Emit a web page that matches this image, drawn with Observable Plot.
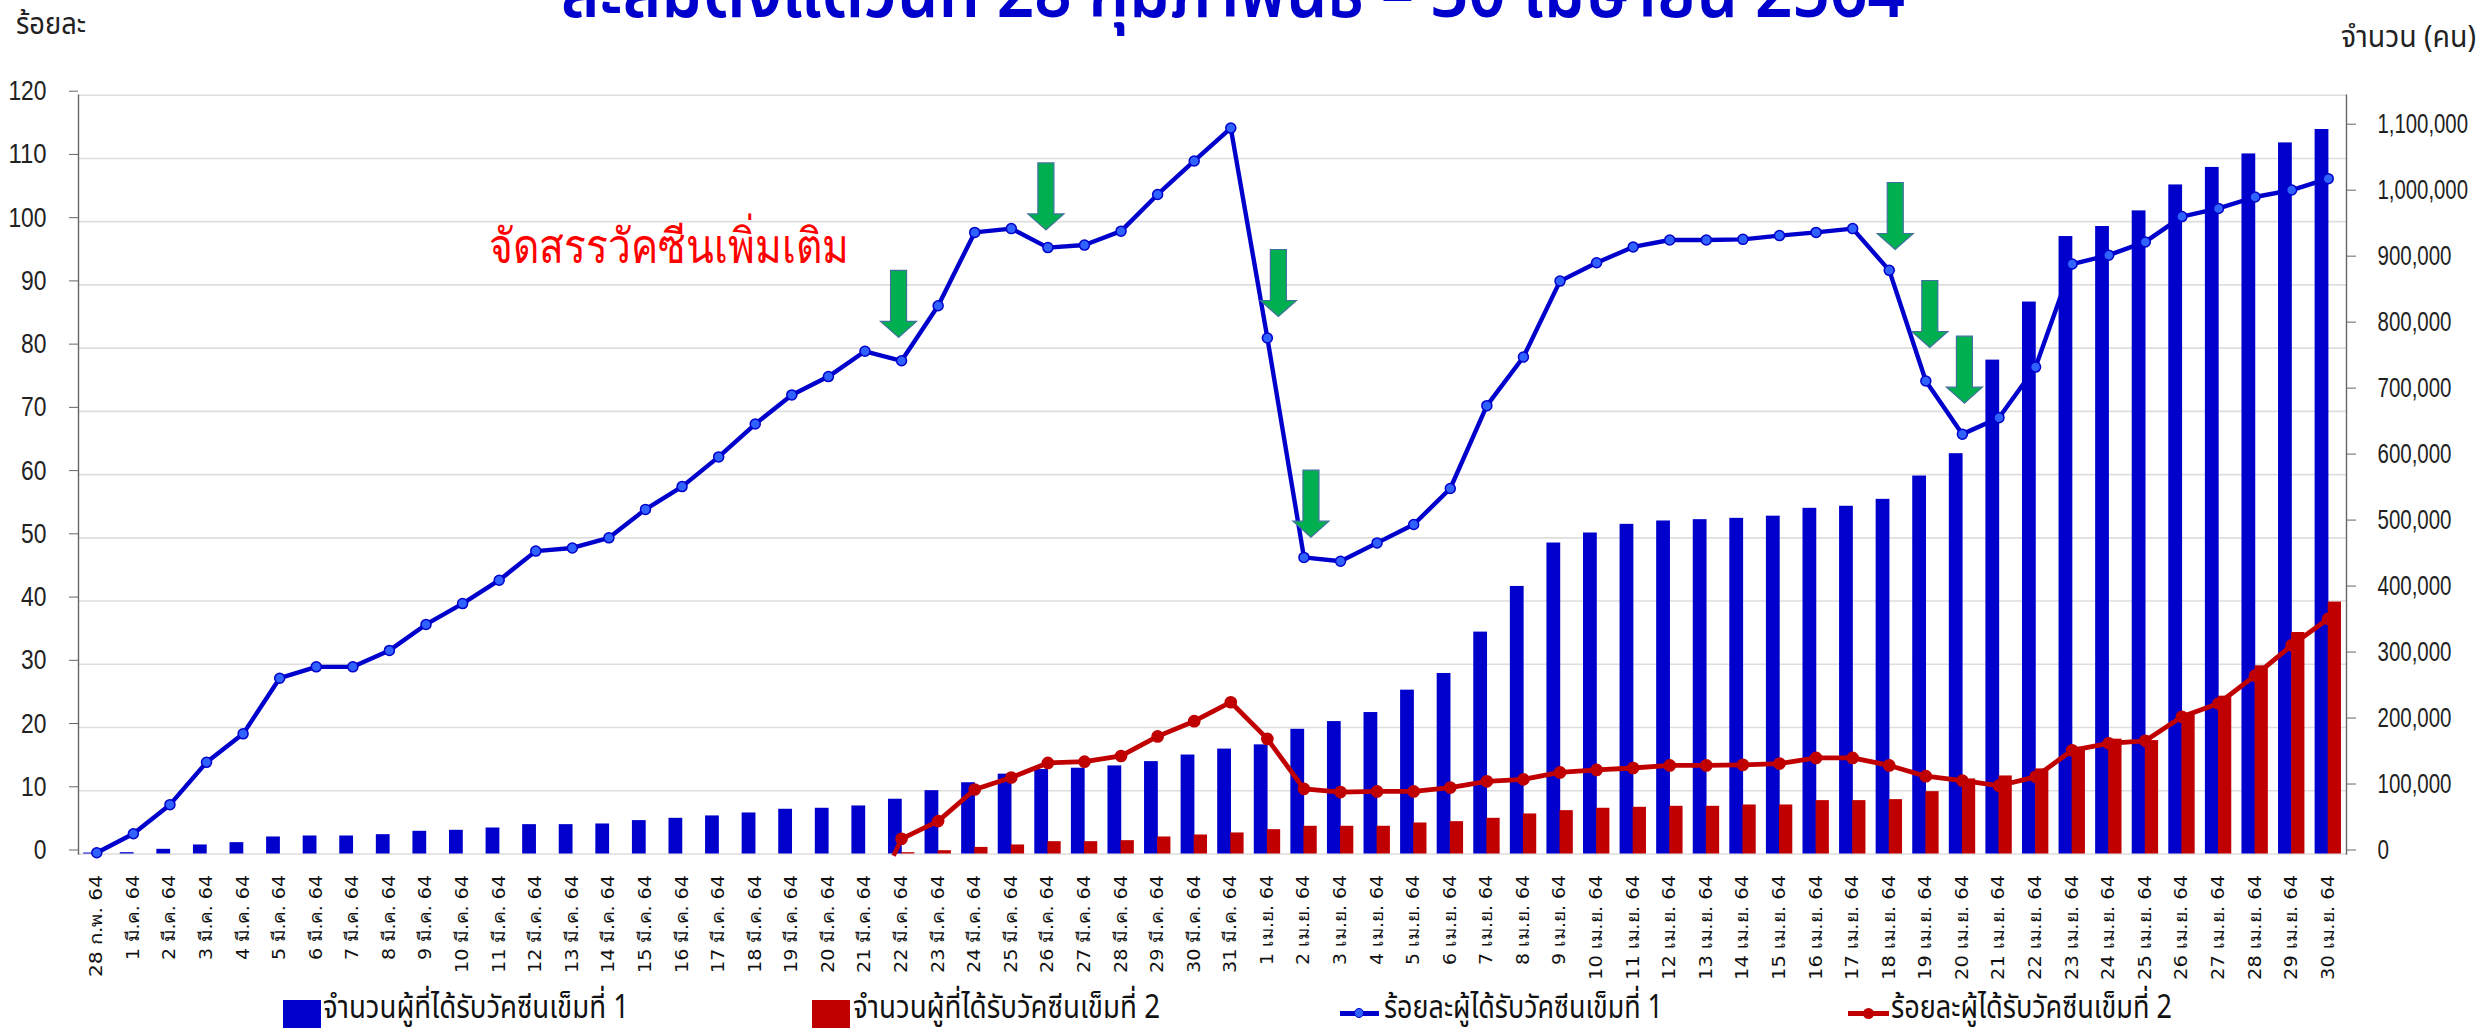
<!DOCTYPE html>
<html lang="th"><head><meta charset="utf-8">
<script src="https://cdn.jsdelivr.net/npm/d3@7"></script>
<script src="https://cdn.jsdelivr.net/npm/@observablehq/plot@0.6"></script>
<style>
html,body{margin:0;padding:0;background:#fff;overflow:hidden}
#wrap{position:relative;width:2486px;height:1031px;overflow:hidden;font-family:"Noto Sans","Noto Sans Thai",Tahoma,sans-serif}
#wrap svg{position:absolute;left:0;top:0;display:block}
.t{position:absolute;white-space:nowrap;line-height:1;transform-origin:left center}
.sw{position:absolute}
</style></head><body><div id="wrap"></div>
<script>
const feb = ["28 ก.พ. 64"];
const marDays = d3.range(1, 32).map(d => `${d} มี.ค. 64`);
const aprDays = d3.range(1, 31).map(d => `${d} เม.ย. 64`);
const dates = [...feb, ...marDays, ...aprDays];
const dose1Count = [1500,2000,7100,13700,17200,25800,27300,27300,29300,34400,35900,39400,44500,44500,45500,50600,54100,57700,62200,67800,69300,72800,83000,96000,108000,121000,128000,130000,133500,140000,150000,159000,165400,189000,200700,214400,248300,273600,336300,405500,471300,486500,499600,504700,506700,508700,512000,523900,527000,537500,572800,606700,748500,836500,935800,951000,974700,1014000,1040500,1061000,1077700,1098000];
const dose2Dates = dates.slice(22);
const dose2Count = [2000,5000,10000,13700,18700,18700,20200,25800,28800,31900,36900,42000,42000,42000,47000,49000,54100,60700,65700,69300,70800,72300,72300,74300,74300,80900,80900,82400,94500,113800,118300,129000,161800,174000,171900,213400,239200,285200,335700,381800];
const dose1Pct = [0.2,3.2,7.8,14.5,19,27.8,29.6,29.6,32.2,36.3,39.6,43.3,47.9,48.4,50,54.5,58.1,62.8,68,72.6,75.5,79.5,78,86.7,98.3,98.9,95.9,96.3,98.5,104.3,109.6,114.8,81.6,46.9,46.3,49.2,52.1,57.8,70.9,78.6,90.6,93.5,96,97.1,97.1,97.2,97.8,98.3,98.9,92.3,74.8,66.4,69,77,93.3,94.7,96.8,100.8,102.1,103.9,105,106.8];
const dose2Pct = [2.4,5.2,10.2,12.1,14.4,14.6,15.5,18.6,21,24,18.2,10.3,9.8,9.9,9.9,10.5,11.5,11.8,12.9,13.3,13.6,14,14,14.1,14.3,15.2,15.2,14,12.3,11.6,10.8,12.2,16.4,17.5,17.9,21.7,23.8,28.2,33,37.2];
const pctTicks = d3.range(0, 121, 10);
const countTicks = d3.range(0, 1100001, 100000);
const arrowDates = ["22 มี.ค. 64","26 มี.ค. 64","1 เม.ย. 64","2 เม.ย. 64","18 เม.ย. 64","19 เม.ย. 64","20 เม.ย. 64"];
const arrowTips = [81.7,98.7,85,50.1,95.6,80.1,71.3];
const titleText = "สะสมตั้งแต่วันที่ 28 กุมภาพันธ์ – 30 เมษายน 2564";
const noteText = "จัดสรรวัคซีนเพิ่มเติม";
const leftUnit = "ร้อยละ";
const rightUnit = "จำนวน (คน)";
const legend1 = "จำนวนผู้ที่ได้รับวัคซีนเข็มที่ 1";
const legend2 = "จำนวนผู้ที่ได้รับวัคซีนเข็มที่ 2";
const legend3 = "ร้อยละผู้ได้รับวัคซีนเข็มที่ 1";
const legend4 = "ร้อยละผู้ได้รับวัคซีนเข็มที่ 2";

const BLUE = "#0000cc", RED = "#c00000", MARK = "#2f62ff";
const k = 120 / 1150000;
const bars1 = dates.map((d, i) => ({d, v: dose1Count[i] * k}));
const bars2 = dose2Dates.map((d, i) => ({d, v: dose2Count[i] * k}));
const pts1 = dates.map((d, i) => ({d, v: dose1Pct[i]}));
const pts2 = dose2Dates.map((d, i) => ({d, v: dose2Pct[i]}));
const arrowSymbol = {draw(c) {
  c.moveTo(0, 0); c.lineTo(-18, -16); c.lineTo(-8, -16); c.lineTo(-8, -67);
  c.lineTo(8, -67); c.lineTo(8, -16); c.lineTo(18, -16); c.closePath();
}};
const stubSymbol = {draw(c) { c.moveTo(0, 0); c.lineTo(-8, 17); }};
const nudge = [-3, -2, 11, 7, 6, 4, 2];
const numFont = '"Liberation Sans",sans-serif';

const chart = Plot.plot({
  width: 2486, height: 1031,
  marginLeft: 78, marginRight: 140, marginTop: 94.7, marginBottom: 177.5,
  style: {background: "transparent", fontFamily: '"Noto Sans",sans-serif'},
  x: {type: "band", domain: dates, padding: 0, round: false},
  y: {domain: [0, 120]},
  marks: [
    Plot.ruleY(pctTicks, {stroke: "#dedede", strokeWidth: 1.6}),
    Plot.frame({anchor: "left", stroke: "#666", strokeWidth: 1.4}),
    Plot.frame({anchor: "right", stroke: "#666", strokeWidth: 1.4}),
    Plot.axisY(pctTicks, {anchor: "left", label: null, tickSize: 9, tickPadding: 23, fontSize: 28, stroke: "#666", fontFamily: numFont, dy: -4, fill: "#222"}),
    Plot.axisY(countTicks.map(v => v * k), {anchor: "right", label: null, tickSize: 9, tickPadding: 22, fontSize: 28, stroke: "#666", fontFamily: numFont, dy: -4, fill: "#222", tickFormat: v => d3.format(",")(Math.round(v / k))}),
    Plot.axisX(dates, {anchor: "bottom", label: null, tickSize: 0, tickPadding: 21, tickRotate: -90, fontSize: 17, fontFamily: '"DejaVu Sans","Noto Sans",sans-serif', fill: "#111", tickFormat: d => d}),
    Plot.barY(bars1, {x: "d", y: "v", fill: BLUE, insetLeft: 5.2, insetRight: 17.6}),
    Plot.barY(bars2, {x: "d", y: "v", fill: RED, insetLeft: 18.3, insetRight: 5}),
    Plot.line(pts1, {x: "d", y: "v", stroke: BLUE, strokeWidth: 4.4, curve: "linear"}),
    Plot.dot(pts1, {x: "d", y: "v", r: 5, fill: MARK, stroke: BLUE, strokeWidth: 1.5}),
    Plot.dot(pts2.slice(0, 1), {x: "d", y: "v", symbol: stubSymbol, stroke: RED, strokeWidth: 4.5, fill: "none"}),
    Plot.line(pts2, {x: "d", y: "v", stroke: RED, strokeWidth: 4.8, curve: "linear"}),
    Plot.dot(pts2, {x: "d", y: "v", r: 5.6, fill: RED, stroke: RED}),
    ...arrowDates.map((d, i) => Plot.dot([{d, v: arrowTips[i]}], {x: "d", y: "v", dx: nudge[i], symbol: arrowSymbol, fill: "#00b050", stroke: "#41719c", strokeWidth: 1.2})),
    Plot.text([noteText], {x: () => "16 มี.ค. 64", y: () => 93.4, text: d => d, dx: -13, fontSize: 48, fontWeight: 500, fill: "#ff0000", lineAnchor: "bottom"})
  ]
});
const wrap = document.getElementById("wrap");
wrap.appendChild(chart);

// Fit text to the reference's measured lengths.
function fit(el, len) {
  el.setAttribute("lengthAdjust", "spacingAndGlyphs");
  el.setAttribute("textLength", len);
}
function dateLength(s) {
  const twoDigit = /^\d\d/.test(s);
  if (s === feb[0]) return 102;
  return s.includes("มี.ค.") ? (twoDigit ? 98 : 85) : (twoDigit ? 105 : 90);
}
d3.select(chart).selectAll("text").each(function () {
  const s = this.textContent;
  if (dates.includes(s)) fit(this, dateLength(s));
  else if (s === noteText) fit(this, 360);
  else if (/,/.test(s) || s === "0" && this.getBoundingClientRect().left > 1000) {
    const digits = s.replace(/,/g, "").length, commas = s.length - digits;
    fit(this, digits * 11.5 + commas * 5);
  } else if (/^\d+$/.test(s)) fit(this, s.length * 12.7);
});

function label(text, x, y, size, color, width, extra) {
  const e = document.createElement("div"); e.className = "t"; e.textContent = text;
  e.style.cssText += `left:${x}px;top:${y}px;font-size:${size}px;color:${color};${extra||""}`;
  wrap.appendChild(e);
  if (width) e.style.transform = `scaleX(${width / e.getBoundingClientRect().width})`;
  return e;
}
function box(x, y, w, h, color, extra) {
  const e = document.createElement("div"); e.className = "sw";
  e.style.cssText = `left:${x}px;top:${y}px;width:${w}px;height:${h}px;background:${color};${extra||""}`;
  wrap.appendChild(e);
}
label(titleText, 561, -47, 72, BLUE, 1344, "font-weight:600");
label(leftUnit, 16, 8, 30, "#222", 70);
label(rightUnit, 2341, 21, 30, "#222", 135);
box(283, 1000, 38, 28, BLUE);
label(legend1, 323, 990, 32, "#111", 306);
box(812, 1000, 38, 28, RED);
label(legend2, 853, 990, 32, "#111", 307);
box(1340, 1011, 39, 4.5, BLUE);
box(1354, 1008, 10, 10, MARK, "border-radius:50%;border:1.5px solid #0000cc;box-sizing:border-box");
label(legend3, 1384, 990, 32, "#111", 279);
box(1848, 1011, 41, 5, RED);
box(1863, 1008, 11, 11, RED, "border-radius:50%");
label(legend4, 1891, 990, 32, "#111", 281);
</script></body></html>
